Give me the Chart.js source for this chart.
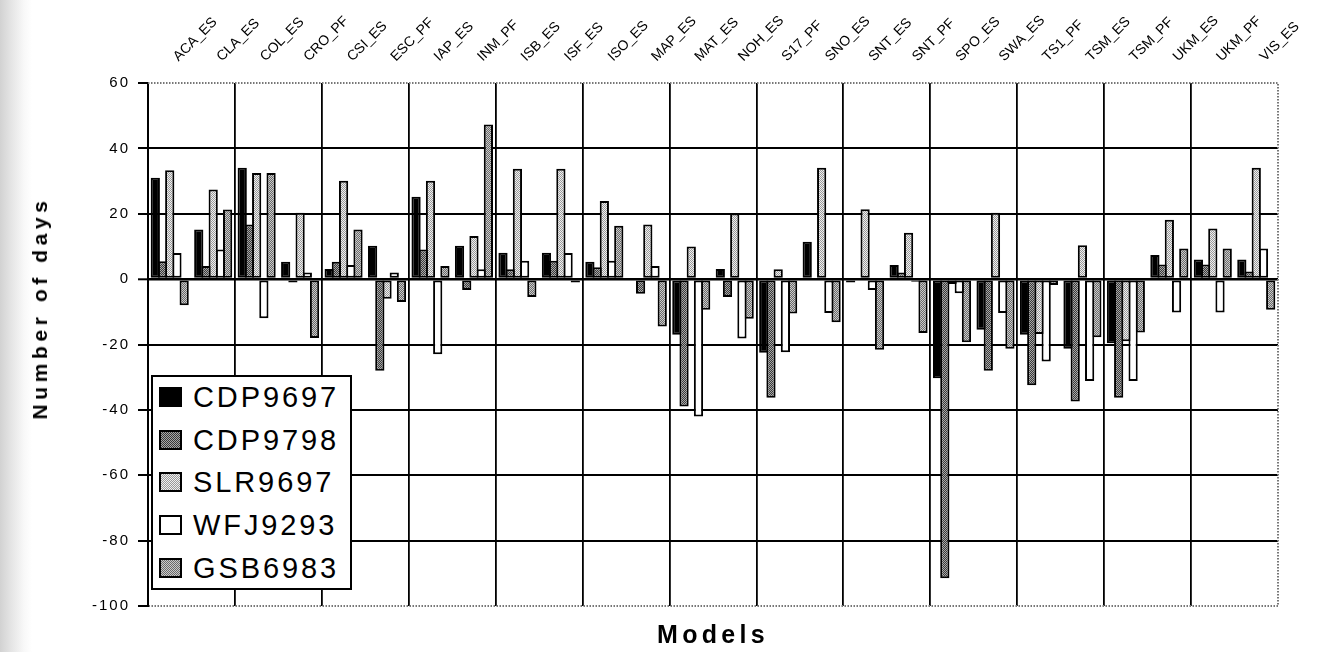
<!DOCTYPE html>
<html>
<head>
<meta charset="utf-8">
<script src="https://cdn.jsdelivr.net/npm/chart.js@4.4.1/dist/chart.umd.min.js"></script>
<style>
html,body{margin:0;padding:0;background:#fff;}
#wrap{position:relative;width:1324px;height:652px;overflow:hidden;background:linear-gradient(to right,#d2d2d2 0px,#e6e6e6 12px,#f8f8f8 24px,#fff 32px);}
#c{position:absolute;left:0;top:0;}
#ytitle{position:absolute;left:40px;top:308px;transform:translate(-50%,-50%) rotate(-90deg);font:bold 21px "Liberation Sans",Arial,sans-serif;letter-spacing:4.6px;white-space:nowrap;color:#000;}
#legend{position:absolute;left:151px;top:375px;width:197px;height:211px;border:2px solid #000;background:#fff;font:29px "Liberation Sans",Arial,sans-serif;letter-spacing:2.9px;color:#000;}
.sw{position:absolute;left:6px;width:19px;height:16px;border:2px solid #000;image-rendering:pixelated;background-size:2px 2px;}
.lab{position:absolute;left:40px;line-height:29px;white-space:nowrap;}
</style>
</head>
<body>
<div id="wrap">
  <canvas id="c" width="1324" height="652"></canvas>
  <div id="ytitle">Number of days</div>
  <div id="legend"></div>
</div>
<script>
// ---- data ----
const categories = ['ACA_ES','CLA_ES','COL_ES','CRO_PF','CSI_ES','ESC_PF','IAP_ES','INM_PF','ISB_ES','ISF_ES','ISO_ES','MAP_ES','MAT_ES','NOH_ES','S17_PF','SNO_ES','SNT_ES','SNT_PF','SPO_ES','SWA_ES','TS1_PF','TSM_ES','TSM_PF','UKM_ES','UKM_PF','VIS_ES'];
const seriesNames = ['CDP9697','CDP9798','SLR9697','WFJ9293','GSB6983'];
const CDP9697 = [31, 15.2, 34.1, 5.3, 3.1, 10.2, 25.2, 10.2, 8.1, 8.1, 5.3, 0, -17, 3.1, -22.5, 11.4, -1, 4.3, -30.3, -15.5, -17, -21.3, -19.6, 7.4, 6, 6];
const CDP9798 = [5.5, 4, 16.7, -1, 5.3, -28, 9.1, -3.3, 3, 5.6, 3.6, -4.5, -39, -5.5, -36.3, 0, 0, 2, -91.5, -28, -32.5, -37.4, -36.3, 4.5, 4.5, 2.3];
const SLR9697 = [33.3, 27.4, 32.5, 20.3, 30.1, -6, 30.1, 13.2, 33.8, 33.8, 23.9, 16.7, 10, 20.1, 3, 34.1, 21.4, 14.2, -1.5, 20.3, -16.8, 10.4, -19, 18.2, 15.5, 34.1];
const WFJ9293 = [8, 9.1, -12, 2, 4.3, 2, -23, 3, 5.6, 8, 5.6, 4, -42, -18.2, -22.4, -10.4, -3.3, -0.8, -4.3, -10.4, -25.2, -31.2, -31.2, -10.2, -10.2, 9.4];
const GSB6983 = [-8, 21.3, 32.5, -18, 15.2, -7, 4, 47.3, -5.5, -1, 16.3, -14.5, -9.4, -12.1, -10.5, -13.2, -21.6, -16.5, -19.3, -21.3, -1.8, -17.8, -16.3, 9.4, 9.4, -9.4];
const seriesValues = [CDP9697, CDP9798, SLR9697, WFJ9293, GSB6983];
const yMin = -100, yMax = 60, yStep = 20;
const xTitle = 'Models';

// ---- fills ----
function tile(a, b) {
  const c = document.createElement('canvas'); c.width = 2; c.height = 2;
  const g = c.getContext('2d');
  g.fillStyle = a; g.fillRect(0, 0, 2, 2);
  g.fillStyle = b; g.fillRect(0, 0, 1, 1); g.fillRect(1, 1, 1, 1);
  return c;
}
const tiles = [tile('#000', '#000'), tile('#3a3a3a', '#a8a8a8'), tile('#efefef', '#9a9a9a'), tile('#fff', '#fff'), tile('#6a6a6a', '#cacaca')];
const pctx = document.getElementById('c').getContext('2d');
const fills = tiles.map(t => pctx.createPattern(t, 'repeat'));

// ---- legend (HTML) ----
const legend = document.getElementById('legend');
seriesNames.forEach((n, i) => {
  const sw = document.createElement('div');
  sw.className = 'sw';
  sw.style.top = (10 + 42.7 * i) + 'px';
  sw.style.backgroundImage = 'url(' + tiles[i].toDataURL() + ')';
  legend.appendChild(sw);
  const lb = document.createElement('div');
  lb.className = 'lab';
  lb.style.top = (6 + 42.7 * i) + 'px';
  lb.textContent = n;
  legend.appendChild(lb);
});

const FONT = '"Liberation Sans", Arial, sans-serif';
const LETTER = { y: { labels: '2px' }, x: { labels: '0px' }, xb: { title: '4.3px' } };

const spacingPlugin = {
  id: 'spacing',
  beforeDraw(chart) {
    const ctx = chart.ctx;
    for (const s of Object.values(chart.scales)) {
      if (s.__wrapped) continue;
      s.__wrapped = true;
      const cfg = LETTER[s.id] || {};
      const dl = s.drawLabels, dt = s.drawTitle;
      s.drawLabels = function (a) { ctx.save(); if ('letterSpacing' in ctx) ctx.letterSpacing = cfg.labels || '0px'; dl.call(this, a); ctx.restore(); };
      s.drawTitle = function () { ctx.save(); if ('letterSpacing' in ctx) ctx.letterSpacing = cfg.title || '0px'; dt.call(this); ctx.restore(); };
    }
  }
};

const framePlugin = {
  id: 'frame',
  beforeDatasetsDraw(chart) {
    const { ctx, chartArea: a } = chart;
    ctx.save();
    ctx.strokeStyle = '#777';
    ctx.lineWidth = 2;
    ctx.setLineDash([1.5, 1.5]);
    ctx.beginPath();
    ctx.moveTo(a.left, a.top); ctx.lineTo(a.right, a.top); ctx.lineTo(a.right, a.bottom); ctx.lineTo(a.left + 1, a.bottom);
    ctx.stroke();
    ctx.restore();
  }
};

new Chart(document.getElementById('c'), {
  type: 'bar',
  data: {
    labels: categories,
    datasets: seriesNames.map((n, i) => ({
      label: n,
      data: seriesValues[i],
      backgroundColor: fills[i],
      borderColor: '#000',
      borderWidth: 2,
      borderSkipped: false,
      xAxisID: 'x',
      barPercentage: 1.28,
      categoryPercentage: 0.83
    }))
  },
  options: {
    responsive: false,
    animation: false,
    devicePixelRatio: 1,
    layout: { padding: { left: 0, right: 46, top: 0, bottom: 0 } },
    plugins: { legend: { display: false }, tooltip: { enabled: false }, title: { display: false } },
    scales: {
      x: {
        type: 'category', position: 'top', offset: true,
        grid: {
          offset: true, drawTicks: false, lineWidth: 1.8,
          color: (c) => (c.index % 2 === 0 && c.index > 0 && c.index < categories.length) ? '#000' : 'rgba(0,0,0,0)'
        },
        border: { display: false },
        ticks: { autoSkip: false, minRotation: 45, maxRotation: 45, padding: 18, labelOffset: 18, color: '#000', font: { family: FONT, size: 14 } },
        afterFit: (s) => { s.height = 83; }
      },
      xb: {
        type: 'category', position: 'bottom', offset: true,
        grid: { display: false }, border: { display: false },
        ticks: { display: false },
        title: { display: true, text: xTitle, color: '#000', font: { family: FONT, size: 25, weight: 'bold' }, padding: { top: 0, bottom: 1 } },
        afterFit: (s) => { s.height = 46; }
      },
      y: {
        min: yMin, max: yMax,
        ticks: { stepSize: yStep, color: '#000', font: { family: FONT, size: 15 }, padding: 8 },
        grid: {
          color: (c) => (c.tick && (c.tick.value === yMax || c.tick.value === yMin)) ? 'rgba(0,0,0,0)' : '#000',
          lineWidth: (c) => (c.tick && c.tick.value === 0) ? 2.6 : 2,
          tickColor: '#000', tickLength: 10, tickWidth: 2
        },
        border: { color: '#000', width: 2 },
        afterFit: (s) => { s.width = 148; }
      }
    }
  },
  plugins: [spacingPlugin, framePlugin]
});
</script>
</body>
</html>
